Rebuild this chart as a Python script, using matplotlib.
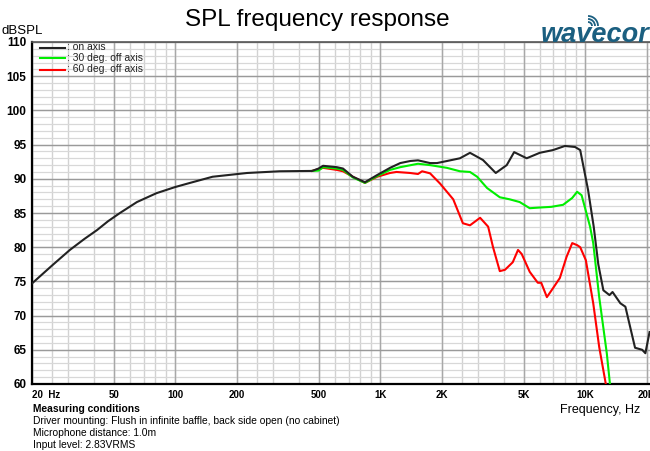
import matplotlib.pyplot as plt
from matplotlib.patches import Arc
import numpy as np

plt.rcParams['font.family'] = ['Liberation Sans', 'DejaVu Sans']

# data
freq_on = [20, 25, 30.6, 36, 41.5, 47, 53.7, 65, 81, 100, 118, 152, 224, 323, 465, 500, 526, 614, 658,
           735, 842, 966, 1116, 1252, 1400, 1528, 1750, 1890, 2115, 2448, 2740, 3170, 3660, 4140,
           4500, 5180, 6000, 6960, 7960, 8920, 9450, 10320, 11000, 11580, 12260, 13130, 13590,
           14840, 15700, 17500, 18960, 19650, 20600]
spl_on = [74.7, 77.3, 79.6, 81.2, 82.5, 83.8, 85.0, 86.6, 87.9, 88.8, 89.4, 90.3, 90.85, 91.1, 91.15,
          91.5, 91.9, 91.7, 91.5, 90.3, 89.5, 90.55, 91.6, 92.3, 92.6, 92.7, 92.3, 92.3, 92.6, 93.0,
          93.8, 92.75, 90.85, 92.0, 93.9, 93.0, 93.8, 94.2, 94.8, 94.65, 94.2, 88.4, 83.0, 77.5,
          73.7, 73.0, 73.45, 71.8, 71.3, 65.3, 65.0, 64.5, 67.6]

freq_30 = [465, 500, 526, 614, 658, 735, 842, 966, 1116, 1252, 1528, 1750, 2115, 2448, 2740, 2970,
           3320, 3830, 4280, 4790, 5360, 6000, 6830, 7800, 8640, 9130, 9600, 10560, 10940, 11700,
           12740, 13200, 14000]
spl_30 = [91.15, 91.2, 91.7, 91.5, 91.3, 90.2, 89.4, 90.4, 91.3, 91.7, 92.2, 92.0, 91.6, 91.1, 91.0,
          90.3, 88.65, 87.3, 87.0, 86.6, 85.7, 85.8, 85.9, 86.2, 87.2, 88.1, 87.6, 83.0, 80.6, 72.7,
          64.5, 60.0, 55.0]

freq_60 = [465, 526, 614, 658, 735, 842, 966, 1116, 1200, 1400, 1528, 1600, 1750, 1958, 2270, 2530,
           2740, 3070, 3360, 3550, 3830, 4060, 4430, 4700, 4900, 5360, 5870, 6100, 6500, 6960, 7520,
           8110, 8640, 9130, 9450, 10070, 10940, 11700, 12600, 13300]
spl_60 = [91.15, 91.6, 91.3, 91.1, 90.3, 89.4, 90.3, 90.85, 91.0, 90.85, 90.7, 91.1, 90.8, 89.3,
          87.0, 83.5, 83.2, 84.3, 83.0, 80.0, 76.5, 76.7, 77.8, 79.6, 79.0, 76.4, 74.8, 74.8, 72.7,
          74.0, 75.5, 78.6, 80.6, 80.3, 80.0, 78.1, 71.8, 65.4, 60.0, 55.0]

xticks = [20, 50, 100, 200, 500, 1000, 2000, 5000, 10000, 20000]
xlabels = ['20  Hz', '50', '100', '200', '500', '1K', '2K', '5K', '10K', '20K']
yticks = list(range(60, 111, 5))

fig = plt.figure(figsize=(6.5, 4.51), dpi=100)
ax = fig.add_axes([32 / 650, 1 - 384 / 451, 618 / 650, 342 / 451])
ax.set_xscale('log')
ax.set_xlim(20, 20700)
ax.set_ylim(60, 110)

# grid
minor_x = []
for dec in [10, 100, 1000, 10000]:
    for m in [2, 2.5, 3, 4, 5, 6, 7, 8, 9, 10]:
        v = dec * m
        if 20 <= v <= 20700:
            minor_x.append(v)
for v in minor_x:
    ax.axvline(v, color='#d2d2d2', lw=1.0, zorder=0)
for v in xticks:
    ax.axvline(v, color='#a8a8a8', lw=1.0, zorder=0.5)
for v in range(60, 111):
    ax.axhline(v, color='#d8d8d8', lw=0.9, zorder=0)
for v in yticks:
    ax.axhline(v, color='#9a9a9a', lw=1.0, zorder=0.5)

ax.plot(freq_60, spl_60, color='#ff0000', lw=1.5, zorder=3)
ax.plot(freq_30, spl_30, color='#00ee00', lw=1.5, zorder=4)
ax.plot(freq_on, spl_on, color='#222222', lw=1.5, zorder=5)

ax.set_xticks(xticks)
ax.set_xticklabels(xlabels, fontsize=7, fontweight='bold')
ax.xaxis.set_minor_locator(plt.NullLocator())
ax.set_yticks(yticks)
ax.set_yticklabels([str(v) for v in yticks], fontsize=8.5, fontweight='bold')
ax.tick_params(length=0, pad=4)
ax.get_xticklabels()[0].set_horizontalalignment('left')

ax.spines['right'].set_visible(False)
ax.spines['left'].set_linewidth(1.6)
ax.spines['bottom'].set_linewidth(1.6)
ax.spines['top'].set_color('#555555')
ax.spines['top'].set_linewidth(1.2)

# legend drawn by hand
leg = [('#222222', ': on axis'), ('#00ee00', ': 30 deg. off axis'), ('#ff0000', ': 60 deg. off axis')]
for i, (c, t) in enumerate(leg):
    yy = 1 - (47.5 + 11 * i) / 451
    fig.add_artist(plt.Line2D([40 / 650, 65 / 650], [yy, yy], color=c, lw=1.5))
    fig.text(67 / 650, yy, t, fontsize=7.5, va='center', ha='left', color='#222222')

fig.text(317 / 650, 1 - 20 / 451, 'SPL frequency response', fontsize=17.5, ha='center', va='center')
fig.text(2 / 650, 1 - 31 / 451, 'dBSPL', fontsize=9.5, ha='left', va='center')

# logo
fig.text(541 / 650, 1 - 35 / 451, 'wavecor', fontsize=19.5, fontstyle='italic', fontweight='bold',
         color='#1b5f80', ha='left', va='center')
for r in [4, 7, 10]:
    fig.add_artist(Arc((588 / 650, 1 - 26 / 451), 2 * r / 650, 2 * r / 451, theta1=0, theta2=90,
                       transform=fig.transFigure, color='#1b5f80', lw=1.3))

fig.text(560 / 650, 1 - 410 / 451, 'Frequency, Hz', fontsize=9, ha='left', va='center')
fig.text(33 / 650, 1 - 409 / 451, 'Measuring conditions', fontsize=7.4, fontweight='bold', ha='left', va='center')
fig.text(33 / 650, 1 - 421.5 / 451, 'Driver mounting: Flush in infinite baffle, back side open (no cabinet)',
         fontsize=7.4, ha='left', va='center')
fig.text(33 / 650, 1 - 433.5 / 451, 'Microphone distance: 1.0m', fontsize=7.4, ha='left', va='center')
fig.text(33 / 650, 1 - 445 / 451, 'Input level: 2.83VRMS', fontsize=7.4, ha='left', va='center')

fig.savefig('out.png', dpi=100)
